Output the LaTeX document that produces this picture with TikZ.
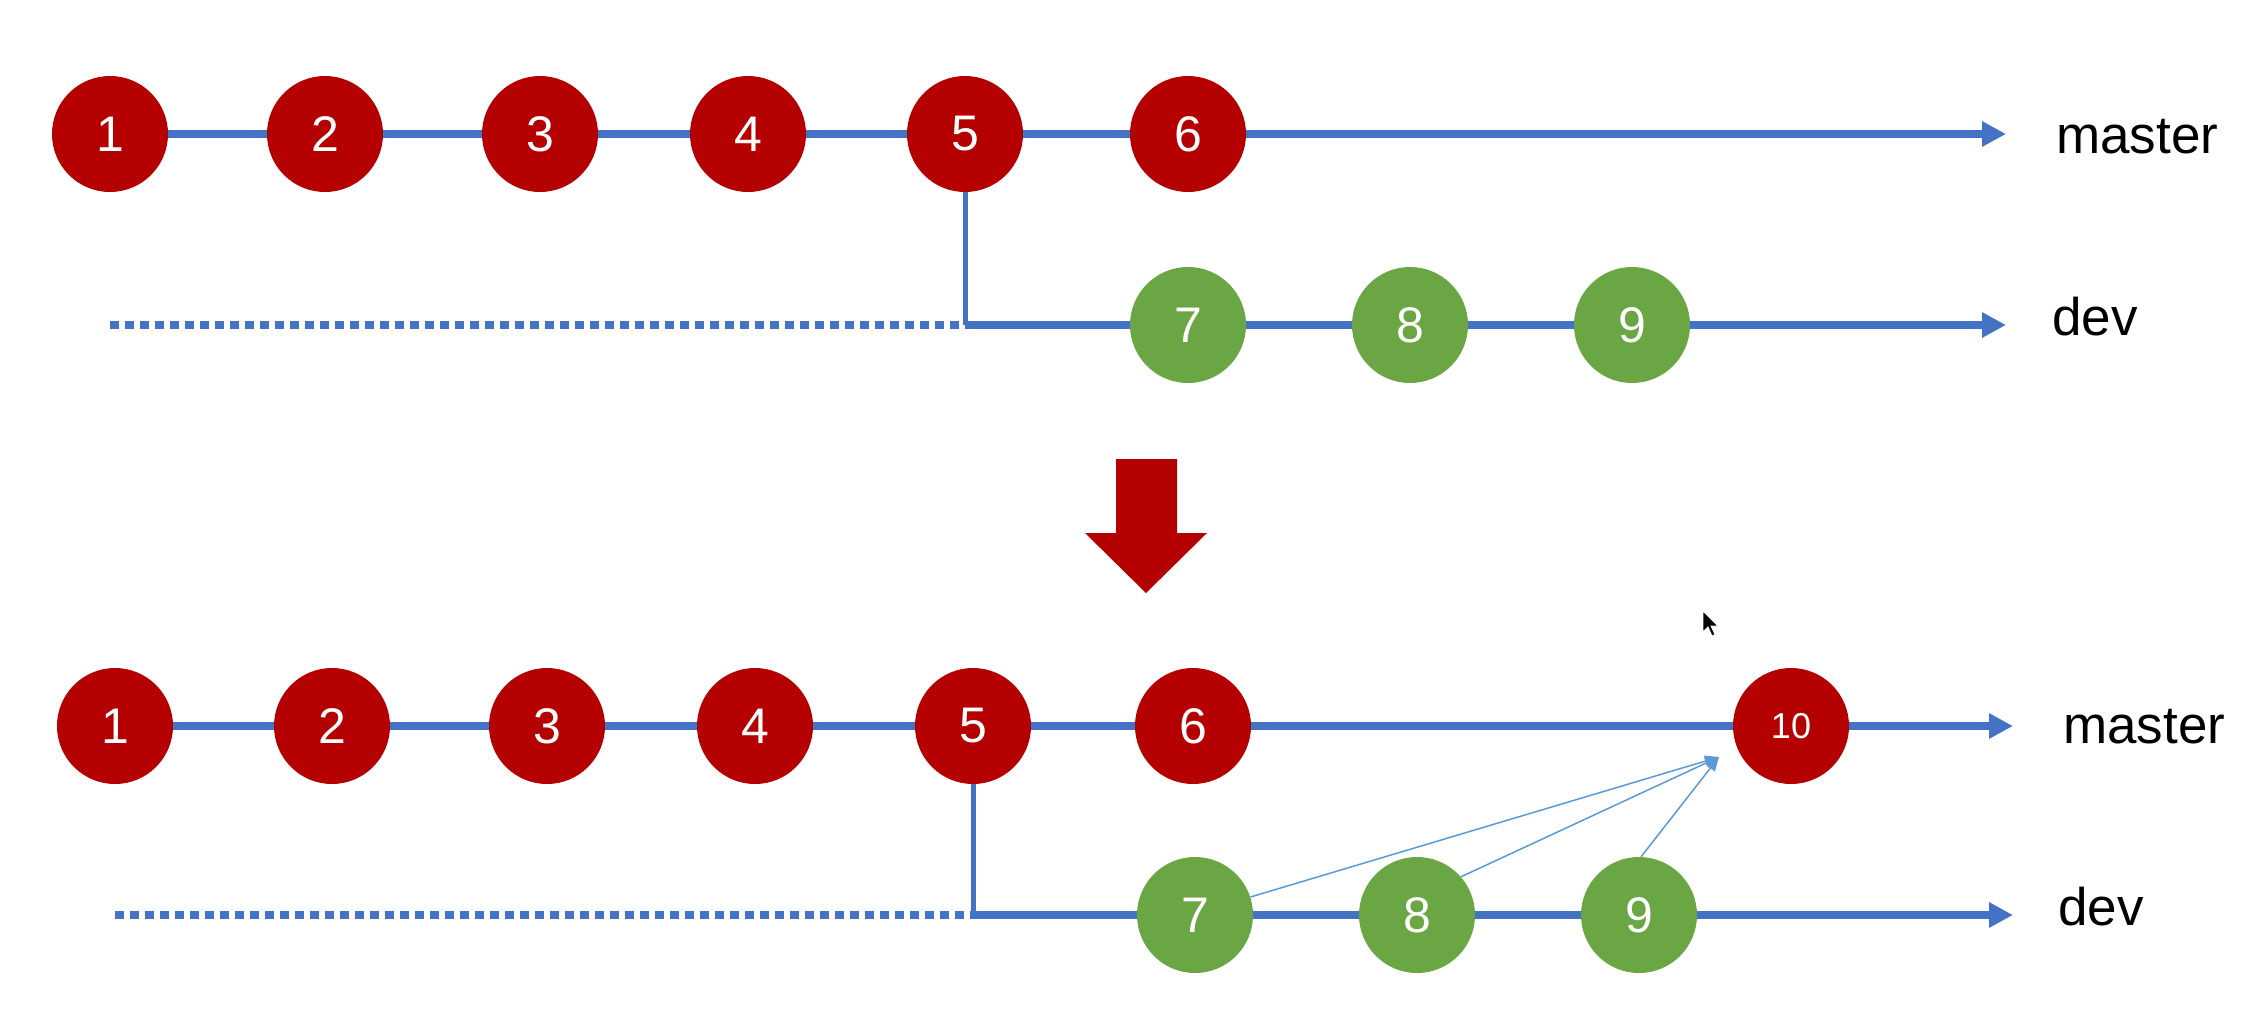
\documentclass[tikz,border=0pt]{standalone}
\usepackage{fontspec}
\setmainfont{Liberation Sans}
\usetikzlibrary{arrows.meta}
\definecolor{cred}{RGB}{180,0,0}
\definecolor{cgreen}{RGB}{106,166,67}
\definecolor{cblue}{RGB}{68,114,196}
\definecolor{clight}{RGB}{91,155,213}
\begin{document}
\begin{tikzpicture}[x=1pt,y=-1pt,
 commit/.style={circle,minimum size=116pt,inner sep=0pt,text=white,font=\fontsize{50}{50}\selectfont},
 redc/.style={commit,fill=cred},
 greenc/.style={commit,fill=cgreen},
 branch/.style={draw=cblue,line width=7.5pt},
 tipped/.style={branch,-{Triangle[length=24pt,width=24pt]}},
 fork/.style={draw=cblue,line width=5pt},
 past/.style={draw=cblue,line width=7.5pt,dash pattern=on 9pt off 6pt},
 merge/.style={draw=clight,line width=1.5pt,-{Triangle[length=14pt,width=11pt]}},
 blabel/.style={anchor=west,font=\fontsize{53}{53}\selectfont,text=black,inner sep=0pt}]
\useasboundingbox (0,0) rectangle (2263,1010);
\fill[white] (0,0) rectangle (2263,1010);

% ---------- top diagram ----------
\coordinate (tc5) at (965,325);
\coordinate (td0) at (110,325);
\coordinate (tmend) at (2006,134);
\coordinate (tdend) at (2006,325);
\node[redc] (t1) at (110,134) {1};
\node[redc] (t2) at (325,134) {2};
\node[redc] (t3) at (540,134) {3};
\node[redc] (t4) at (748,134) {4};
\node[redc] (t5) at (965,134) {5};
\node[redc] (t6) at (1188,134) {6};
\node[greenc] (t7) at (1188,325) {7};
\node[greenc] (t8) at (1410,325) {8};
\node[greenc] (t9) at (1632,325) {9};
\draw[branch] (t1) -- (t2);
\draw[branch] (t2) -- (t3);
\draw[branch] (t3) -- (t4);
\draw[branch] (t4) -- (t5);
\draw[branch] (t5) -- (t6);
\draw[tipped] (t6) -- (tmend);
\draw[fork] (t5.south) -- (tc5);
\draw[past] (td0) -- (tc5);
\draw[branch] (tc5) -- (t7);
\draw[branch] (t7) -- (t8);
\draw[branch] (t8) -- (t9);
\draw[tipped] (t9) -- (tdend);
\node[blabel] (tmaster) at (2056,137) {master};
\node[blabel] (tdev) at (2052,317) {dev};

% ---------- big arrow ----------
\fill[cred] (1116,459) -- (1177,459) -- (1177,533) -- (1207,533) -- (1146,593) -- (1085,533) -- (1116,533) -- cycle;

% ---------- cursor ----------
\filldraw[fill=black,draw=white,line width=0.8pt] (1703,611) -- (1703,632) -- (1708,627) -- (1712,636) -- (1715,634.5) -- (1711,626) -- (1718,626) -- cycle;

% ---------- bottom diagram ----------
\coordinate (bc5) at (973,915);
\coordinate (bd0) at (115,915);
\coordinate (bmend) at (2013,726);
\coordinate (bdend) at (2013,915);
\coordinate (bmtip) at (1719,757);
\node[redc] (b1) at (115,726) {1};
\node[redc] (b2) at (332,726) {2};
\node[redc] (b3) at (547,726) {3};
\node[redc] (b4) at (755,726) {4};
\node[redc] (b5) at (973,726) {5};
\node[redc] (b6) at (1193,726) {6};
\node[redc,font=\fontsize{36}{36}\selectfont] (b10) at (1791,726) {10};
\node[greenc] (b7) at (1195,915) {7};
\node[greenc] (b8) at (1417,915) {8};
\node[greenc] (b9) at (1639,915) {9};
\draw[branch] (b1) -- (b2);
\draw[branch] (b2) -- (b3);
\draw[branch] (b3) -- (b4);
\draw[branch] (b4) -- (b5);
\draw[branch] (b5) -- (b6);
\draw[branch] (b6) -- (b10);
\draw[tipped] (b10) -- (bmend);
\draw[fork] (b5.south) -- (bc5);
\draw[past] (bd0) -- (bc5);
\draw[branch] (bc5) -- (b7);
\draw[branch] (b7) -- (b8);
\draw[branch] (b8) -- (b9);
\draw[tipped] (b9) -- (bdend);
\draw[merge] (b7.18) -- (bmtip);
\draw[merge] (b8.41) -- (bmtip);
\draw[merge] (b9.88) -- (bmtip);
\node[blabel] (bmaster) at (2063,727) {master};
\node[blabel] (bdev) at (2058,907) {dev};
\end{tikzpicture}
\end{document}
